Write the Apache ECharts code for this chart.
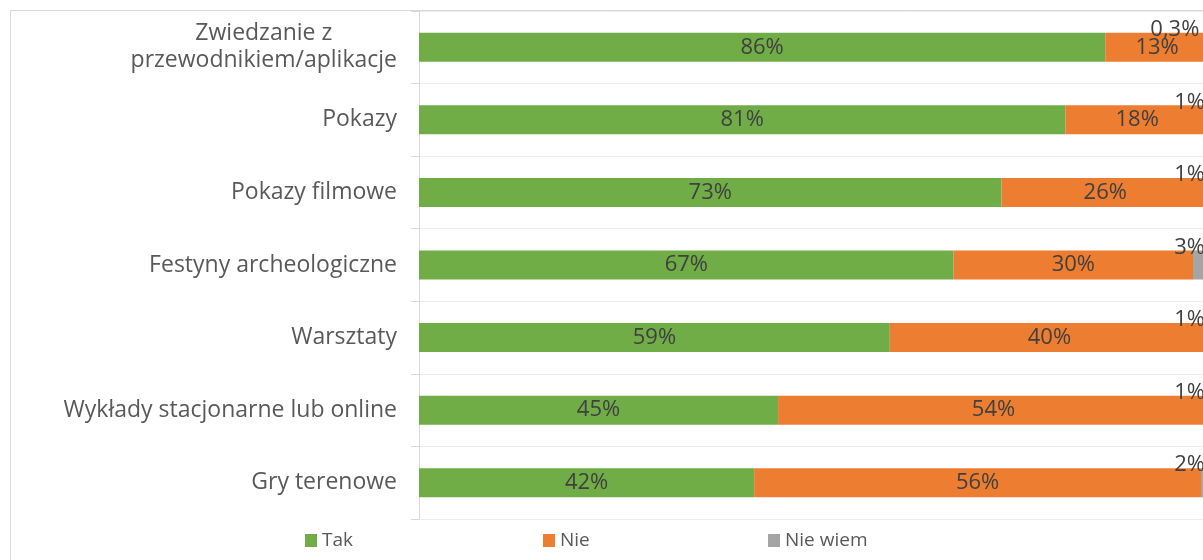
<!DOCTYPE html>
<html><head><meta charset="utf-8">
<script src="https://cdn.jsdelivr.net/npm/echarts@6/dist/echarts.min.js"></script>
<style>html,body{margin:0;padding:0;background:#fff}#c{width:1203px;height:560px}</style>
</head><body><div id="c"></div>
<script>
const categories = ['Zwiedzanie z\nprzewodnikiem/aplikacje','Pokazy','Pokazy filmowe','Festyny archeologiczne','Warsztaty','Wykłady stacjonarne lub online','Gry terenowe'];
const tak = [86, 81, 73, 67, 59, 45, 42];
const nie = [13, 18, 26, 30, 40, 54, 56];
const nieWiem = [0.3, 1, 1, 3, 1, 1, 2];
const seriesNames = ['Tak', 'Nie', 'Nie wiem'];
const colors = ['#70AD47', '#ED7D31', '#A5A5A5'];

const FONT = 'Open Sans';
const FS = 22;
const fmt = p => String(p.value).replace('.', ',') + '%';
const legendLefts = [305, 543, 768];
// the reference chart is cropped on the right: 100% lies ~14px beyond the canvas edge
const VISIBLE_MAX = 98.25;
const chart = echarts.init(document.getElementById('c'));
chart.setOption({
  animation: false,
  textStyle: {fontFamily: FONT},
  graphic: [{type: 'rect', shape: {x: 10.5, y: 10.5, width: 1400, height: 700}, style: {fill: 'none', stroke: '#d9d9d9', lineWidth: 1}, z: -1}],
  grid: {left: 419, top: 11, bottom: 41, right: 0, containLabel: false},
  legend: seriesNames.map((n, i) => ({
    top: 531, left: legendLefts[i], itemWidth: 12, itemHeight: 13, icon: 'rect', padding: 0, itemGap: 5,
    textStyle: {fontSize: 19, color: '#595959', fontFamily: FONT},
    data: [n]
  })),
  xAxis: {type: 'value', min: 0, max: VISIBLE_MAX, show: false},
  yAxis: {
    type: 'category', data: categories, inverse: true,
    axisLine: {show: true, lineStyle: {color: '#d9d9d9'}},
    axisTick: {show: true, length: 8, lineStyle: {color: '#d9d9d9'}},
    splitLine: {show: true, lineStyle: {color: '#ececec'}},
    axisLabel: {
      margin: 22, fontSize: 23, color: '#595959', fontFamily: FONT, lineHeight: 28,
      formatter: v => v.indexOf('\n') >= 0 ? v.split('\n').map(s => '{c|' + s + '}').join('\n') : v,
      rich: {c: {align: 'center', fontSize: 23, color: '#595959', fontFamily: FONT, lineHeight: 27}}
    }
  },
  series: [
    {name: seriesNames[0], type: 'bar', stack: 's', data: tak, barCategoryGap: '60%', clip: false, itemStyle: {color: colors[0]},
     label: {show: true, position: 'inside', formatter: fmt, fontSize: FS, color: '#404040', fontFamily: FONT}},
    {name: seriesNames[1], type: 'bar', stack: 's', data: nie, clip: false, itemStyle: {color: colors[1]},
     label: {show: true, position: 'inside', formatter: fmt, fontSize: FS, color: '#404040', fontFamily: FONT}},
    {name: seriesNames[2], type: 'bar', stack: 's', data: nieWiem, clip: false, itemStyle: {color: colors[2]},
     label: {show: true, position: ['100%', 0], align: 'right', verticalAlign: 'middle', offset: [-12, -3], formatter: fmt, fontSize: FS, color: '#404040', fontFamily: FONT}}
  ]
});
</script></body></html>
